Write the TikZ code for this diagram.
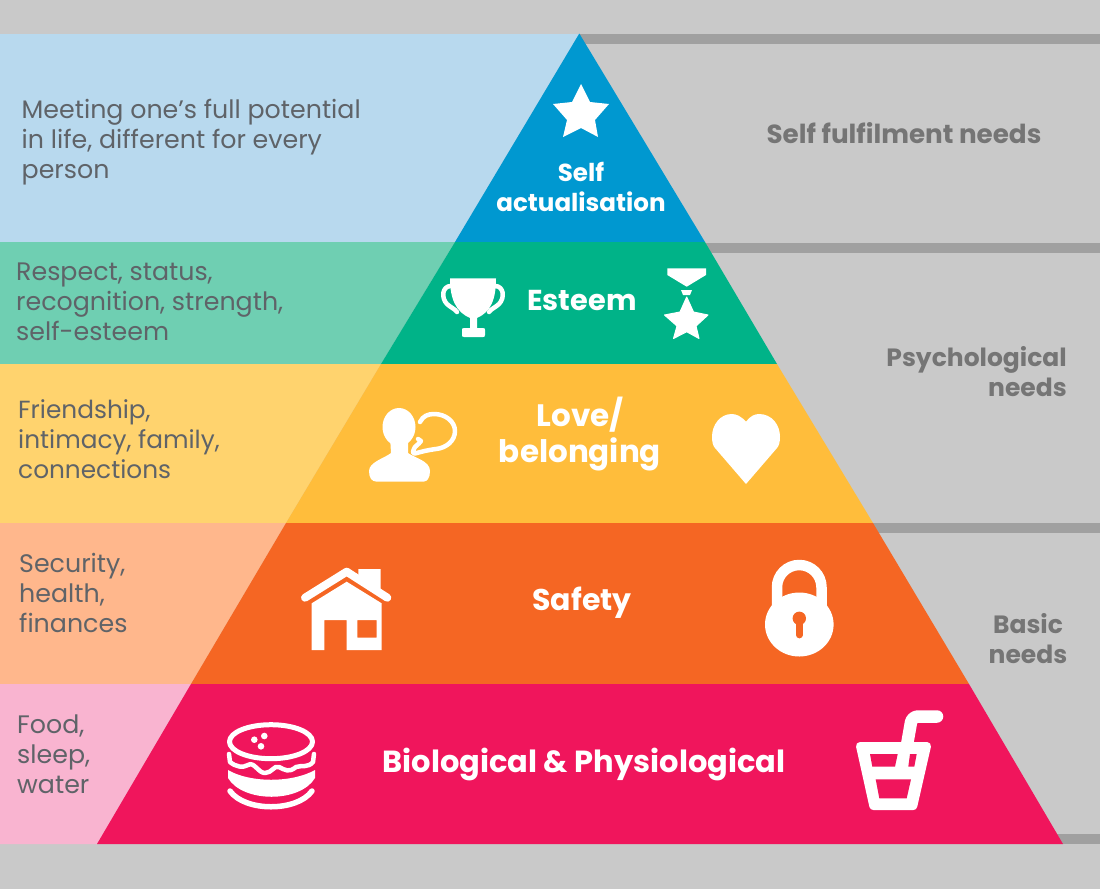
\documentclass[tikz,border=0pt]{standalone}
\usepackage{fontspec}
\setmainfont{Poppins}
\definecolor{bgc}{HTML}{C9C9C9}
\definecolor{barc}{HTML}{A0A0A0}
\definecolor{rtxt}{HTML}{757575}
\definecolor{ltxt}{HTML}{5F6368}
\definecolor{lblue}{HTML}{B8D9EE}
\definecolor{lteal}{HTML}{6FCFB2}
\definecolor{lyel}{HTML}{FFD36E}
\definecolor{lora}{HTML}{FFB78C}
\definecolor{lpink}{HTML}{F9B4D0}
\definecolor{mblue}{HTML}{0098D0}
\definecolor{mgreen}{HTML}{00B388}
\definecolor{myel}{HTML}{FFBD3B}
\definecolor{mora}{HTML}{F56623}
\definecolor{mred}{HTML}{F0155C}
\tikzset{
  lefttxt/.style={anchor=west,align=left,text=ltxt,inner sep=0pt,font=\fontsize{25.3}{30}\selectfont},
  righttxt/.style={text=rtxt,inner sep=0pt,font=\fontsize{25}{30}\selectfont\bfseries},
  toptxt/.style={text=white,inner sep=0pt,align=center},
  ico/.style={fill=white,draw=none},
  icoline/.style={draw=white,fill=none,line cap=round,line join=round},
}
\begin{document}
\begin{tikzpicture}[x=1pt,y=-1pt]
\useasboundingbox (0,0) rectangle (1100,889);
\fill[bgc] (0,0) rectangle (1100,889);
% dark bars
\fill[barc] (579,34) rectangle (1100,44);
\fill[barc] (700,243) rectangle (1100,253);
\fill[barc] (860,523) rectangle (1100,533);
\fill[barc] (1050,834) rectangle (1100,844);
% left bands
\fill[lblue] (0,34) -- (579,34) -- (455,242) -- (0,242) -- cycle;
\fill[lteal] (0,242) -- (455,242) -- (381,364) -- (0,364) -- cycle;
\fill[lyel] (0,364) -- (381,364) -- (286,523) -- (0,523) -- cycle;
\fill[lora] (0,523) -- (286,523) -- (191,684) -- (0,684) -- cycle;
\fill[lpink] (0,684) -- (191,684) -- (97,844) -- (0,844) -- cycle;
% pyramid
\fill[mblue] (579.3,33.5) -- (705,242) -- (455,242) -- cycle;
\fill[mgreen] (455,242) -- (705,242) -- (777,364) -- (381,364) -- cycle;
\fill[myel] (381,364) -- (777,364) -- (873,523) -- (286,523) -- cycle;
\fill[mora] (286,523) -- (873,523) -- (969,684) -- (191,684) -- cycle;
\fill[mred] (191,684) -- (969,684) -- (1063,844) -- (97,844) -- cycle;
% left text
\node[lefttxt] (t1) at (21.5,142) {Meeting one’s full potential\\in life, different for every\\person};
\node[lefttxt] (t2) at (16,301.5) {Respect, status,\\recognition, strength,\\self-esteem};
\node[lefttxt,font=\fontsize{24.8}{30}\selectfont] (t3) at (18,439) {Friendship,\\intimacy, family,\\connections};
\node[lefttxt] (t4) at (19,593) {Security,\\health,\\finances};
\node[lefttxt] (t5) at (17,754) {Food,\\sleep,\\water};
% right text
\node[righttxt,font=\fontsize{26.2}{30}\selectfont\bfseries] (r1) at (904,133.5) {Self fulfilment needs};
\node[righttxt,align=right,anchor=east] (r2) at (1067,372) {Psychological\\needs};
\node[righttxt,align=center] (r3) at (1028,639) {Basic\\needs};
% pyramid labels
\node[toptxt,font=\fontsize{24.6}{30}\selectfont\bfseries] (p1) at (581,187) {Self\\actualisation};
\node[toptxt,font=\fontsize{28.8}{32}\selectfont\bfseries] (p2) at (582,301) {Esteem};
\node[toptxt,font=\fontsize{31}{36}\selectfont\bfseries] (p3) at (580,434) {Love/\\belonging};
\node[toptxt,font=\fontsize{30}{36}\selectfont\bfseries] (p4) at (582,603) {Safety};
\node[toptxt,font=\fontsize{30.5}{36}\selectfont\bfseries] (p5) at (584,764.5) {Biological \& Physiological};
% star
\fill[ico] (581,84) -- (590,102) -- (609,104) -- (595,120) -- (598,137) -- (581,128) -- (563,137) -- (567,120) -- (553,104) -- (572,102) -- cycle;
% trophy
\fill[ico] (450,278.3) -- (496,278.3) .. controls (496,299) and (491,312) .. (477,318) -- (477,328) -- (483,328) .. controls (485,328) and (485,329) .. (485,330) -- (485,335) .. controls (485,337) and (484,337) .. (483,337) -- (464,337) .. controls (462,337) and (462,336) .. (462,335) -- (462,330) .. controls (462,329) and (462,328) .. (464,328) -- (470,328) -- (470,318) .. controls (456,312) and (450,299) .. cycle;
\draw[icoline,line width=4.5pt] (451,286) .. controls (442,286) and (441,298) .. (447,304) .. controls (450,307) and (455,309) .. (457,312);
\draw[icoline,line width=4.5pt] (495,286) .. controls (504,286) and (505,298) .. (499,304) .. controls (496,307) and (491,309) .. (489,312);
% medal
\fill[ico] (667.3,268.3) -- (706,268.3) -- (706,275) -- (686.7,286.7) -- (667.3,275) -- cycle;
\fill[ico] (681,290) -- (692,290) -- (690,295) -- (683,295) -- cycle;
\draw[ico,draw=white,line width=1pt,line join=round] (686.7,297) -- (693.5,312) -- (708,315) -- (696,326) -- (699,338.5) -- (686.7,331.7) -- (673.5,338.5) -- (677,326) -- (664.5,315) -- (680,312) -- cycle;
% person
\fill[ico] (399,427) ellipse [x radius=16.5,y radius=19];
\fill[ico] (390,436) -- (408,436) -- (408,453) .. controls (415,458) and (430,461) .. (430,471) .. controls (430,478) and (427,481.5) .. (424,481.5) -- (376,481.5) .. controls (372,481.5) and (369,478) .. (369,471) .. controls (369,462) and (385,458) .. (391,453) -- cycle;
\draw[icoline,line width=4.5pt] (420,422) .. controls (423,416) and (428,414) .. (434,414) .. controls (446,414) and (455,422) .. (455,431) .. controls (455,441) and (446,448) .. (436,449) .. controls (428,450) and (420,452) .. (415,453.5) .. controls (412,454) and (413,450) .. (415,447) .. controls (418,444) and (420,443) .. (421,441) -- (418,439);
% heart
\fill[ico] (746,421.7) .. controls (741,416) and (736,414) .. (731.7,414) .. controls (720,414) and (712,425) .. (712,436.7) .. controls (712,442) and (713,446) .. (715,448) -- (746,484) -- (777,448) .. controls (779,446) and (780,442) .. (780,436.7) .. controls (780,425) and (772,414) .. (759,414) .. controls (755,414) and (750,416) .. cycle;
% house
\draw[icoline,line width=8pt] (305,597.7) -- (346.7,571.7) -- (387.3,597.7);
\fill[ico] (358.3,569) -- (380.7,569) -- (380.7,590) -- (358.3,575) -- cycle;
\fill[ico,even odd rule] (311.7,603.3) -- (346.7,581.7) -- (381.7,603.3) -- (381.7,650) -- (346.7,650) -- (346.7,620) -- (324.3,620) -- (324.3,650) -- (311.7,650) -- cycle (357.3,620) rectangle (376.7,637.7);
% lock
\draw[icoline,line width=10.5pt,line cap=butt] (777,612) -- (777,587.25) arc[start angle=180,end angle=0,x radius=22.25,y radius=-22.25] -- (821.5,612);
\fill[ico] (799.3,624.5) ellipse [x radius=34.3,y radius=32];
\fill[mora] (799.3,618.3) circle (6.7);
\draw[mora,line width=6.7pt,line cap=round] (799.3,620) -- (799.3,635);
% burger
\draw[icoline,line width=5pt] (271,741.7) ellipse [x radius=41.5,y radius=17];
\fill[ico] (254.3,739.7) circle (3.3) (264.3,736) circle (3.3) (261,746.3) circle (3.3);
\draw[icoline,line width=4.5pt] (229,754) -- (230,762) .. controls (236,767) and (243,768) .. (248,765) .. controls (254,761) and (258,773) .. (265,773) .. controls (272,773) and (274,765) .. (279,767) .. controls (285,770) and (289,773) .. (296,767) .. controls (302,765) and (308,768) .. (313,762) -- (314,754);
\fill[ico] (228,770) .. controls (250,783) and (292,783) .. (315,770) -- (315,778) .. controls (300,803) and (243,803) .. (228,778) -- cycle;
\draw[icoline,line width=5.5pt] (230,791) .. controls (245,812) and (297,812) .. (312,791);
% drink
\draw[icoline,line width=12.5pt,rounded corners=6pt] (907,745) -- (912,716.5) -- (937,716.5);
\draw[ico,draw=white,line width=8pt,line join=round] (860,746) -- (927,746) -- (913.3,806) -- (873.3,806) -- cycle;
\fill[mred] (870,754) -- (897.7,754) -- (895,766.7) -- (872.3,766.7) -- cycle;
\fill[mred] (910,754) -- (916.7,754) -- (914.3,766.7) -- (908.3,766.7) -- cycle;
\fill[mred] (875.7,779.3) -- (911,779.3) -- (906.7,798.3) -- (879.3,798.3) -- cycle;
\end{tikzpicture}
\end{document}
